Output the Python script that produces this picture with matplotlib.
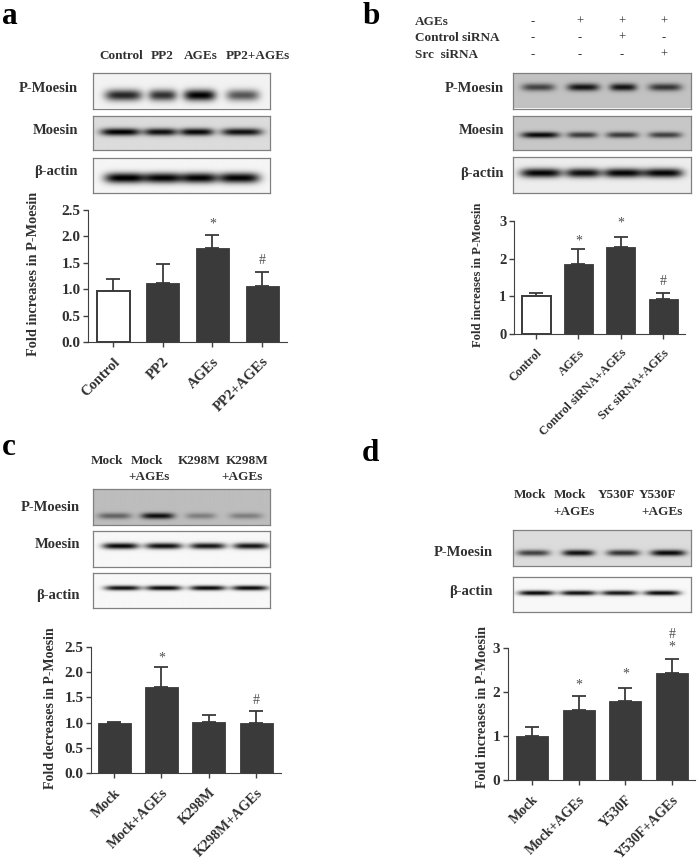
import numpy as np
import matplotlib
matplotlib.use('Agg')
import matplotlib.pyplot as plt

plt.rcParams['font.family'] = ['Liberation Serif', 'DejaVu Serif']

W, H = 697, 861
TXT = '#303030'
BAR = '#3a3a3a'

# bar chart data
a_labels = ['Control', 'PP2', 'AGEs', 'PP2+AGEs']
a_values = [0.97, 1.12, 1.78, 1.07]
a_upper = [1.20, 1.48, 2.03, 1.33]

b_labels = ['Control', 'AGEs', 'Control siRNA+AGEs', 'Src siRNA+AGEs']
b_values = [1.0, 1.87, 2.32, 0.92]
b_upper = [1.10, 2.25, 2.58, 1.10]

c_labels = ['Mock', 'Mock+AGEs', 'K298M', 'K298M+AGEs']
c_values = [1.0, 1.70, 1.02, 1.0]
c_upper = [1.02, 2.11, 1.16, 1.24]

d_labels = ['Mock', 'Mock+AGEs', 'Y530F', 'Y530F+AGEs']
d_values = [1.0, 1.60, 1.79, 2.44]
d_upper = [1.20, 1.90, 2.08, 2.74]

fig = plt.figure(figsize=(W / 100, H / 100), dpi=100, facecolor='white')


def px_axes(x0, y0, x1, y1):
    # pixel box, y measured from the top of the picture
    return fig.add_axes([x0 / W, 1 - y1 / H, (x1 - x0) / W, (y1 - y0) / H])


def txt(x, y, s, size=9.5, ha='center', weight='bold', color=TXT, rot=0, va='center'):
    fig.text(x / W, 1 - y / H, s, fontsize=size, ha=ha, va=va, fontweight=weight,
             color=color, rotation=rot)


def blot(x0, y0, x1, y1, bg, centers, widths, yc, thick, dark):
    # one gel strip: soft dark bands on a grey background
    nx, ny = int((x1 - x0) * 3), int((y1 - y0) * 3)
    xs = np.linspace(x0, x1, nx)
    ys = np.linspace(y0, y1, ny)
    xx, yy = np.meshgrid(xs, ys)
    img = np.full(xx.shape, float(bg))
    for c, w, d in zip(centers, widths, dark):
        band = np.exp(-((xx - c) / (w / 2)) ** 4) * np.exp(-((yy - yc) / (thick * 0.62)) ** 2)
        img -= 1.12 * d * band
    ax = px_axes(x0, y0, x1, y1)
    ax.imshow(np.clip(img, 0, 1), cmap='gray', vmin=0, vmax=1, aspect='auto',
              interpolation='bilinear')
    ax.set_xticks([])
    ax.set_yticks([])
    for s in ax.spines.values():
        s.set_color('#808080')
        s.set_linewidth(0.9)


def bars(box, centers, width, ymax, yticks, fmt, values, upper, labels, hollow, marks,
         ticksize, labelsize, weight):
    x0, ytop, x1, ybot = box
    ax = px_axes(x0, ytop, x1, ybot)
    step = (centers[-1] - centers[0]) / 3
    ax.set_xlim((x0 - centers[0]) / step, (x1 - centers[0]) / step)
    ax.set_ylim(0, ymax)
    pos = np.arange(4)
    for i in pos:
        white = i in hollow
        ax.bar(i, values[i], width=width / step, color='white' if white else BAR,
               edgecolor=BAR, linewidth=1.4 if white else 0.6, zorder=2)
    err = [np.zeros(4), np.array(upper) - np.array(values)]
    ax.errorbar(pos, values, yerr=err, fmt='none', ecolor=BAR, elinewidth=1.3,
                capsize=4.8, capthick=1.3, zorder=1)
    ax.spines['top'].set_visible(False)
    ax.spines['right'].set_visible(False)
    ax.spines['left'].set_color('#404040')
    ax.spines['bottom'].set_color('#404040')
    ax.set_yticks(yticks)
    ax.set_yticklabels([fmt % v for v in yticks], fontsize=ticksize, fontweight=weight, color=TXT)
    ax.set_xticks(pos)
    ax.set_xticklabels(labels, rotation=45, ha='right', rotation_mode='anchor',
                       fontsize=labelsize, fontweight=weight, color=TXT)
    ax.tick_params(axis='both', length=3.5, width=1, color='#404040', pad=2)
    ax.tick_params(axis='x', pad=6)
    for i, s, off in marks:
        ax.annotate(s, xy=(i, upper[i]), xytext=(0, off), textcoords='offset pixels',
                    ha='center', va='center', fontsize=10, color='#505050', annotation_clip=False)
    return ax


# panel letters
txt(2, 24, 'a', size=22.5, ha='left', va='baseline', color='black')
txt(363, 24, 'b', size=22.5, ha='left', va='baseline', color='black')
txt(2, 455, 'c', size=22.5, ha='left', va='baseline', color='black')
txt(362, 461, 'd', size=22.5, ha='left', va='baseline', color='black')

# panel a gels
for x, s in zip([121, 162, 201, 258], ['Control', 'PP2', 'AGEs', 'PP2+AGEs']):
    txt(x, 56, s)
for y, s in zip([88, 131, 172], ['P-Moesin', 'Moesin', 'β-actin']):
    txt(78, y, s, ha='right', size=10.5)
blot(92.5, 73, 270, 108.5, 0.95, [123, 162, 199, 242], [37, 28, 32, 33], 96, 9, [0.72, 0.68, 0.85, 0.55])
blot(92.5, 116, 270, 150, 0.86, [120, 160, 196, 241], [40, 33, 34, 41], 132, 6, [0.78, 0.72, 0.75, 0.72])
blot(92.5, 158, 270, 193, 0.96, [125, 163, 198, 238], [42, 36, 36, 42], 178, 8.5, [0.88, 0.85, 0.85, 0.85])

# panel b gels
for y, s in zip([22, 38, 55], ['AGEs', 'Control siRNA', 'Src  siRNA']):
    txt(415, y, s, ha='left', size=9.5)
for y, row in zip([22, 38, 55], ['-+++', '--+-', '---+']):
    for x, s in zip([533, 580, 622, 664], row):
        txt(x, y, s, size=9, weight='normal')
for y, s in zip([88, 131, 173], ['P-Moesin', 'Moesin', 'β-actin']):
    txt(504, y, s, ha='right', size=10.5)
blot(512.7, 73, 690.7, 108.5, 0.76, [538, 583, 623, 665], [33, 32, 27, 33], 88, 6, [0.45, 0.62, 0.62, 0.5])
blot(512.7, 116, 690.7, 150, 0.78, [540, 582, 622, 665], [38, 30, 32, 33], 135, 5, [0.68, 0.5, 0.5, 0.48])
blot(512.7, 157, 690.7, 193, 0.93, [541, 583, 623, 663], [42, 35, 40, 40], 173, 7.5, [0.82, 0.78, 0.82, 0.82])

# panel c gels
for x, y, s in zip([107, 147, 199, 247, 149, 242], [461, 461, 461, 461, 477, 477],
                   ['Mock', 'Mock', 'K298M', 'K298M', '+AGEs', '+AGEs']):
    txt(x, y, s)
for y, s in zip([507, 545, 596], ['P-Moesin', 'Moesin', 'β-actin']):
    txt(80, y, s, ha='right', size=10.5)
blot(92.5, 489, 270, 525, 0.74, [114, 157, 200, 245], [33, 33, 30, 33], 516, 5, [0.32, 0.62, 0.22, 0.22])
blot(92.5, 531, 270, 567, 0.97, [120, 163, 207, 250], [36, 37, 36, 35], 546, 5, [0.85, 0.82, 0.8, 0.8])
blot(92.5, 573, 270, 608, 0.97, [122, 163, 207, 249], [36, 36, 36, 36], 588, 4, [0.82, 0.85, 0.85, 0.85])

# panel d gels
for x, y, s in zip([530, 570, 616, 657, 574, 662], [495, 495, 495, 495, 512, 512],
                   ['Mock', 'Mock', 'Y530F', 'Y530F', '+AGEs', '+AGEs']):
    txt(x, y, s)
for y, s in zip([553, 592], ['P-Moesin', 'β-actin']):
    txt(493, y, s, ha='right', size=10.5)
blot(512.7, 530, 690.7, 566, 0.86, [533, 578, 623, 668], [33, 32, 33, 35], 553, 5, [0.55, 0.72, 0.6, 0.75])
blot(512.7, 577, 690.7, 612, 0.97, [536, 578, 619, 662], [36, 36, 36, 36], 593, 4, [0.85, 0.82, 0.8, 0.85])

# bar charts
bars((88, 210, 287, 342), [113, 163, 212, 262], 33, 2.5, [0, 0.5, 1, 1.5, 2, 2.5], '%.1f',
     a_values, a_upper, a_labels, [0], [(2, '*', 11), (3, '#', 11)], 11, 10.5, 'bold')
txt(34, 274, 'Fold increases in P-Moesin', size=10.3, rot=90)

bars((514, 221, 685, 334), [536, 578, 620, 663], 29, 3, [0, 1, 2, 3], '%d',
     b_values, b_upper, b_labels, [0], [(1, '*', 8), (2, '*', 14), (3, '#', 11)], 10.5, 8.8, 'bold')
txt(478, 275, 'Fold increases in P-Moesin', size=9.1, rot=90)

bars((91, 647, 281, 773), [114, 162, 209, 256], 33, 2.5, [0, 0.5, 1, 1.5, 2, 2.5], '%.1f',
     c_values, c_upper, c_labels, [], [(1, '*', 9), (3, '#', 10)], 11, 10.2, 'bold')
txt(51, 708, 'Fold decreases in P-Moesin', size=10, rot=90)

bars((508, 648, 695, 780), [532, 579, 625, 672], 32, 3, [0, 1, 2, 3], '%d',
     d_values, d_upper, d_labels, [], [(1, '*', 11), (2, '*', 14), (3, '*', 12), (3, '#', 25)], 11, 10, 'bold')
txt(482, 707, 'Fold increases in P-Moesin', size=10.2, rot=90)

fig.savefig('out.png', dpi=100)
